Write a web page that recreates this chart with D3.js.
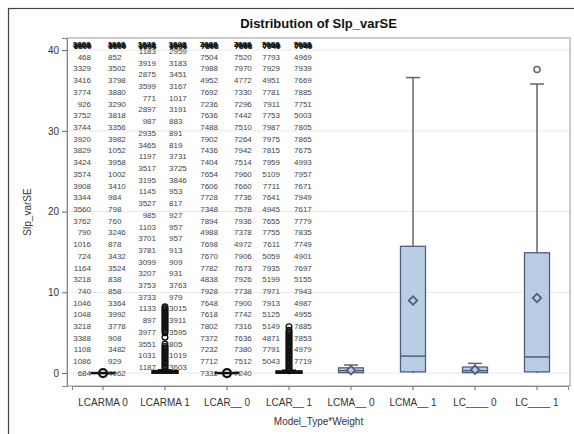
<!DOCTYPE html>
<html lang="en">
<head>
<meta charset="UTF-8">
<script src="https://d3js.org/d3.v7.min.js"></script>
<style>
    body { margin: 0; background: #fff; }
    text { font-family: "Liberation Sans", Arial, sans-serif; }
    .title { font-size: 13px; font-weight: bold; fill: #111; text-anchor: middle; }
    .axis-title { font-size: 10px; fill: #333; text-anchor: middle; }
    .obs-label { font-size: 8px; fill: #444; }
    .blob { font-size: 8px; font-weight: bold; fill: #111; }
</style>
</head>
<body>
<div id="chart"></div>
<script>
// Data
const categories = ["LCARMA 0", "LCARMA 1", "LCAR__ 0", "LCAR__ 1", "LCMA__ 0", "LCMA__ 1", "LC____ 0", "LC____ 1"];
const yTicks = [0, 10, 20, 30, 40];

// box statistics per category
const boxMin    = [0, 0,    0, 0,    0,    0,    0,    0];
const boxQ1     = [0, 0.05, 0, 0.05, 0.05, 0.15, 0.05, 0.15];
const boxMedian = [0, 0.1,  0, 0.1,  0.3,  2.1,  0.3,  2.0];
const boxQ3     = [0, 0.25, 0, 0.2,  0.65, 15.7, 0.75, 14.9];
const boxMax    = [0, 0.4,  0, 0.35, 1.0,  36.6, 1.2,  35.8];
const boxMean   = [0, 0.3,  0, 0.3,  0.35, 9.0,  0.4,  9.3];

// outliers
const outLCARMA0 = [0];
const outLCARMA1 = [0.5, 0.7, 0.9, 1.1, 1.3, 1.5, 1.7, 1.9, 2.1, 2.3, 2.5, 2.7, 2.9, 3.1, 3.3, 3.6, 4.45,
                    5.0, 5.2, 5.4, 5.6, 5.8, 6.0, 6.2, 6.4, 6.6, 6.8, 7.0, 7.2, 7.4, 7.6, 7.8, 8.0, 8.2];
const outLCAR0 = [0];
const outLCAR1 = [0.3, 0.5, 0.7, 0.9, 1.1, 1.3, 1.5, 1.7, 1.9, 2.1, 2.3, 2.5, 2.7, 2.9, 3.1, 3.3, 3.5,
                  3.7, 3.9, 4.1, 4.3, 4.5, 4.7, 4.9, 5.1, 5.3, 5.75];
const outLC1 = [37.6];

// observation labels (spread in columns beside each group)
const labLCARMA0Left = ["468", "3329", "3416", "3774", "926", "3752", "3744", "3920", "3829", "3424", "3574", "3908", "3344", "3560",
    "3762", "790", "1016", "724", "1164", "3218", "740", "1046", "1048", "3218", "3388", "1108", "1086", "684"];
const labLCARMA0Right = ["852", "3502", "3798", "3880", "3290", "3818", "3356", "3982", "1052", "3958", "1002", "3410", "984", "798",
    "760", "3246", "878", "3432", "3524", "838", "858", "3364", "3992", "3778", "908", "3482", "929", "4062"];
const labLCARMA1Left = ["1183", "3919", "2875", "3599", "771", "2897", "987", "2935", "3465", "1197", "3517", "3195", "1145", "3527",
    "985", "1103", "3701", "3781", "3099", "3207", "3753", "3733", "1133", "897", "3977", "3551", "1031", "1187"];
const labLCARMA1Right = ["2959", "3183", "3451", "3167", "1017", "3191", "883", "891", "819", "3731", "3725", "3846", "953", "817",
    "927", "957", "957", "913", "909", "931", "3763", "979", "3015", "3911", "3595", "805", "1019", "3603"];
const labLCAR0Left = ["7504", "7988", "4952", "7692", "7236", "7636", "7488", "7902", "7436", "7404", "7654", "7606", "7728", "7348",
    "7894", "4988", "7698", "7670", "7782", "4838", "7928", "7648", "7618", "7802", "7372", "7232", "7712", "7332"];
const labLCAR0Right = ["7520", "7970", "4772", "7330", "7296", "7442", "7510", "7264", "7942", "7514", "7960", "7660", "7736", "7578",
    "7936", "7378", "4972", "7906", "7673", "7926", "7738", "7900", "7742", "7316", "7636", "7380", "7512", "7240"];
const labLCAR1Left = ["7793", "7929", "4951", "7781", "7911", "7753", "7987", "7975", "7815", "7959", "5109", "7711", "7641", "4945",
    "7655", "7755", "7611", "5059", "7935", "5199", "7971", "7913", "5125", "5149", "4871", "7791", "5043"];
const labLCAR1Right = ["4969", "7939", "7669", "7885", "7751", "5003", "7805", "7865", "7675", "4993", "7957", "7671", "7949", "7617",
    "7779", "7835", "7749", "4901", "7697", "5155", "7943", "4987", "4955", "7885", "7853", "4979", "7719"];
// labels piled up at the top of each column
const blobLCARMA0 = ["3888", "3608", "3860"];
const blobLCARMA1 = ["3888", "1048", "3866"];
const blobLCAR0 = ["7888", "4986", "7868"];
const blobLCAR1 = ["7988", "5098", "7949"];

// Dimensions
const dimensions = { width: 574, height: 434, left: 67, right: 570, top: 38, bottom: 386 };

const svg = d3.select("#chart").append("svg")
    .attr("width", dimensions.width)
    .attr("height", dimensions.height);

// outer frame
svg.append("rect")
    .attr("x", 8.5).attr("y", 8.5)
    .attr("width", dimensions.width).attr("height", dimensions.height)
    .attr("fill", "none").attr("stroke", "#444").attr("stroke-width", 1.2);

// Scales
const y = d3.scaleLinear().domain([-1.6, 41.5]).range([dimensions.bottom, dimensions.top]);
const x = d3.scaleBand().domain(categories).range([72, 568]);
const cx = (c) => x(c) + x.bandwidth() / 2;
const boxW = 25;

// grid
svg.append("g").selectAll("line").data(yTicks).join("line")
    .attr("x1", dimensions.left).attr("x2", dimensions.right)
    .attr("y1", d => y(d)).attr("y2", d => y(d))
    .attr("stroke", "#e8e8e8");

// plot wall
svg.append("rect")
    .attr("x", dimensions.left).attr("y", dimensions.top)
    .attr("width", dimensions.right - dimensions.left)
    .attr("height", dimensions.bottom - dimensions.top)
    .attr("fill", "none").attr("stroke", "#999");

// Axes
const yAxis = svg.append("g")
    .attr("transform", `translate(${dimensions.left},0)`)
    .call(d3.axisLeft(y).tickValues(yTicks).tickSize(5).tickPadding(3));
const xAxis = svg.append("g")
    .attr("transform", `translate(0,${dimensions.bottom})`)
    .call(d3.axisBottom(x).tickSize(4).tickPadding(9));
[yAxis, xAxis].forEach(a => {
    a.select(".domain").attr("stroke", "#888");
    a.selectAll(".tick line").attr("stroke", "#666");
    a.selectAll("text").attr("fill", "#333").style("font-size", "10px")
        .style("font-family", '"Liberation Sans", Arial, sans-serif');
});

// Boxes
const stats = categories.map((c, i) => ({
    cat: c, min: boxMin[i], q1: boxQ1[i], med: boxMedian[i], q3: boxQ3[i], max: boxMax[i], mean: boxMean[i]
}));
const boxColor = "#b9cde5", edgeColor = "#4f5f7d", whiskerColor = "#666";

const g = svg.append("g");
stats.forEach(s => {
    const c = cx(s.cat);
    const dark = ["LCARMA 0", "LCARMA 1", "LCAR__ 0", "LCAR__ 1"].includes(s.cat);
    // whiskers
    g.append("line").attr("x1", c).attr("x2", c).attr("y1", y(s.q3)).attr("y2", y(s.max))
        .attr("stroke", whiskerColor).attr("stroke-width", 1.5);
    g.append("line").attr("x1", c).attr("x2", c).attr("y1", y(s.q1)).attr("y2", y(s.min))
        .attr("stroke", whiskerColor).attr("stroke-width", 1.5);
    g.append("line").attr("x1", c - 7).attr("x2", c + 7).attr("y1", y(s.max)).attr("y2", y(s.max))
        .attr("stroke", dark ? "#111" : whiskerColor).attr("stroke-width", 1.5);
    // box
    g.append("rect")
        .attr("x", c - boxW / 2).attr("width", boxW)
        .attr("y", y(s.q3)).attr("height", Math.max(0, y(s.q1) - y(s.q3)))
        .attr("fill", boxColor)
        .attr("stroke", dark ? "#111" : edgeColor).attr("stroke-width", dark ? 2.5 : 1.3);
    g.append("line").attr("x1", c - boxW / 2).attr("x2", c + boxW / 2)
        .attr("y1", y(s.med)).attr("y2", y(s.med))
        .attr("stroke", dark ? "#111" : edgeColor).attr("stroke-width", dark ? 2.5 : 1.5);
    // mean marker
    if (!dark) {
        g.append("path")
            .attr("transform", `translate(${c},${y(s.mean)}) rotate(45)`)
            .attr("d", d3.symbol(d3.symbolSquare, 36))
            .attr("fill", boxColor).attr("stroke", edgeColor).attr("stroke-width", 1.8);
    }
});

// outliers
const outlierSets = [
    { cat: "LCARMA 0", values: outLCARMA0, r: 4, color: "#111", width: 2.2 },
    { cat: "LCARMA 1", values: outLCARMA1, r: 2.8, color: "#111", width: 1.4 },
    { cat: "LCAR__ 0", values: outLCAR0, r: 4, color: "#111", width: 2.2 },
    { cat: "LCAR__ 1", values: outLCAR1, r: 2.8, color: "#111", width: 1.4 },
    { cat: "LC____ 1", values: outLC1, r: 3, color: "#666", width: 1.5 }
];
outlierSets.forEach(o => {
    g.selectAll(null).data(o.values).join("circle")
        .attr("cx", cx(o.cat)).attr("cy", d => y(d)).attr("r", o.r)
        .attr("fill", "none").attr("stroke", o.color).attr("stroke-width", o.width);
});

// Observation label columns
const rowY = d3.scaleLinear().domain([0, 28]).range([y(40.6), y(0)]);
const columns = [
    { cat: "LCARMA 0", side: "left",  dx: -12, labels: labLCARMA0Left,  start: 1 },
    { cat: "LCARMA 0", side: "right", dx: 5,   labels: labLCARMA0Right, start: 1 },
    { cat: "LCARMA 1", side: "left",  dx: -9,  labels: labLCARMA1Left,  start: 0.5 },
    { cat: "LCARMA 1", side: "right", dx: 4,   labels: labLCARMA1Right, start: 0.5 },
    { cat: "LCAR__ 0", side: "left",  dx: -9,  labels: labLCAR0Left,    start: 1 },
    { cat: "LCAR__ 0", side: "right", dx: 7,   labels: labLCAR0Right,   start: 1 },
    { cat: "LCAR__ 1", side: "left",  dx: -9,  labels: labLCAR1Left,    start: 1 },
    { cat: "LCAR__ 1", side: "right", dx: 5,   labels: labLCAR1Right,   start: 1 }
];
const blobs = { "LCARMA 0": blobLCARMA0, "LCARMA 1": blobLCARMA1, "LCAR__ 0": blobLCAR0, "LCAR__ 1": blobLCAR1 };

columns.forEach(col => {
    const x0 = cx(col.cat) + col.dx;
    const anchor = col.side === "left" ? "end" : "start";
    svg.append("g").selectAll("text").data(col.labels).join("text")
        .attr("class", "obs-label")
        .attr("x", x0)
        .attr("y", (d, i) => rowY(col.start + i))
        .attr("dy", "0.35em")
        .attr("text-anchor", anchor)
        .text(d => d);
    // overlapped labels at the top
    svg.append("g").selectAll("text").data(blobs[col.cat]).join("text")
        .attr("class", "blob")
        .attr("x", (d, i) => x0 + (i - 1) * 0.6)
        .attr("y", (d, i) => rowY(0) + (i - 1) * 1.2)
        .attr("dy", "0.35em")
        .attr("text-anchor", anchor)
        .text(d => d);
});

// Titles
svg.append("text").attr("class", "title")
    .attr("x", (dimensions.left + dimensions.right) / 2).attr("y", 28)
    .text("Distribution of Slp_varSE");
svg.append("text").attr("class", "axis-title")
    .attr("x", (dimensions.left + dimensions.right) / 2).attr("y", 425)
    .text("Model_Type*Weight");
svg.append("text").attr("class", "axis-title")
    .attr("transform", `translate(31,${(dimensions.top + dimensions.bottom) / 2}) rotate(-90)`)
    .text("Slp_varSE");
</script>
</body>
</html>
